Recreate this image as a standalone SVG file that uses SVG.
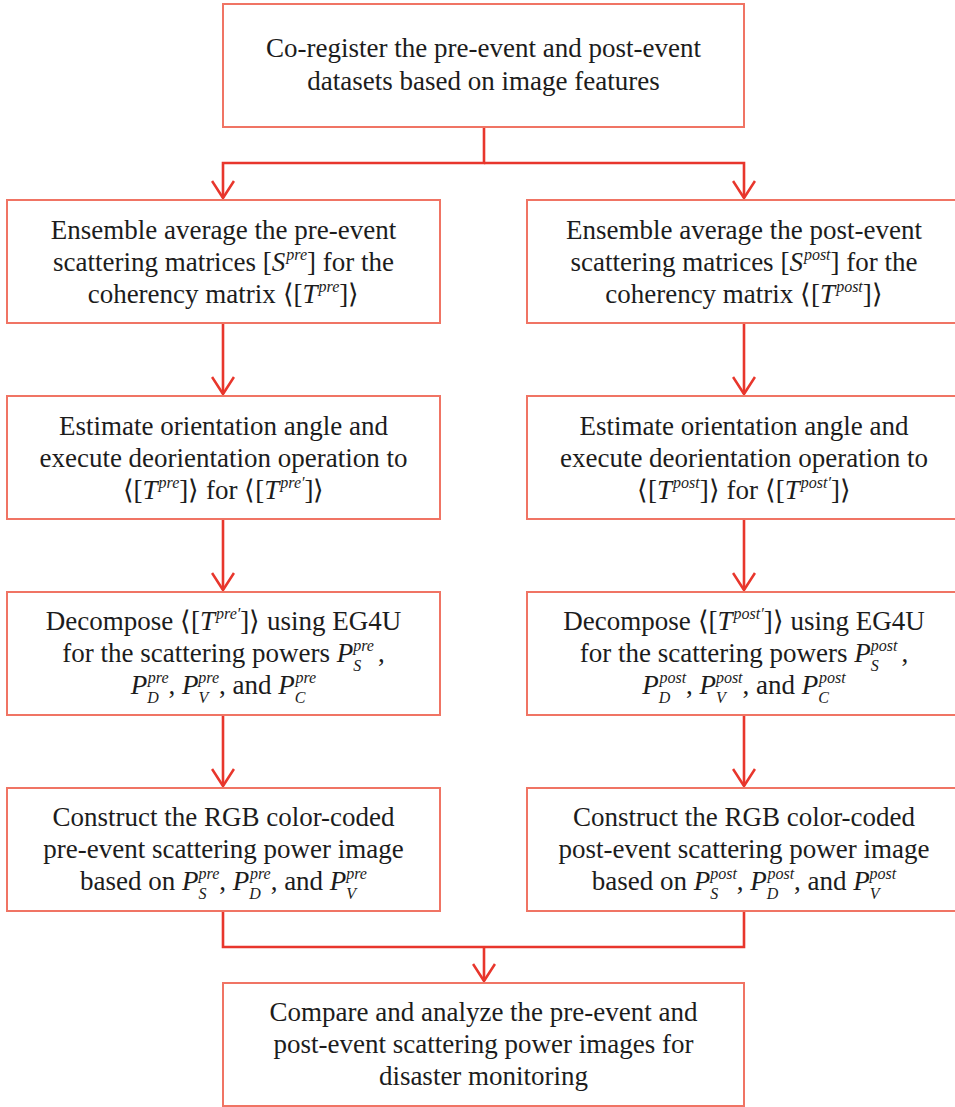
<svg xmlns="http://www.w3.org/2000/svg" width="955" height="1107" viewBox="0 0 955 1107">
<defs>
<style>
.box{fill:#fff;stroke:#f07464;stroke-width:2}
.con{fill:none;stroke:#e8362c;stroke-width:2.6}
.t{font-family:"Liberation Serif","Times New Roman",serif;font-size:27px;fill:#1c1c1c;text-anchor:middle}
.i{font-style:italic}
.s{font-size:16px;font-style:italic}
</style>
<marker id="arr" viewBox="-19 -12 21 24" refX="0" refY="0" markerWidth="21" markerHeight="24" markerUnits="userSpaceOnUse" orient="auto">
<path d="M-17,-11 L0,0 L-17,11" fill="none" stroke="#e8362c" stroke-width="2.6"/>
</marker>
</defs>
<rect width="955" height="1107" fill="#fff"/>

<g id="connectors">
<path class="con" d="M484 127 V163 H223 V198" marker-end="url(#arr)"/>
<path class="con" d="M484 163 H744 V198" marker-end="url(#arr)"/>
<path class="con" d="M223 323 V394" marker-end="url(#arr)"/>
<path class="con" d="M223 519 V590" marker-end="url(#arr)"/>
<path class="con" d="M223 715 V786" marker-end="url(#arr)"/>
<path class="con" d="M744 323 V394" marker-end="url(#arr)"/>
<path class="con" d="M744 519 V590" marker-end="url(#arr)"/>
<path class="con" d="M744 715 V786" marker-end="url(#arr)"/>
<path class="con" d="M223 911 V947 H744 V911"/>
<path class="con" d="M484 947 V981" marker-end="url(#arr)"/>
</g>

<g id="n-coregister">
<rect class="box" x="223" y="4" width="521" height="123"/>
<text class="t" x="483.5" y="57">Co-register the pre-event and post-event</text>
<text class="t" x="483.5" y="90">datasets based on image features</text>
</g>

<g id="n-ensemble-pre">
<rect class="box" x="7" y="200" width="433" height="123"/>
<text class="t" x="223.5" y="239">Ensemble average the pre-event</text>
<text class="t" x="223.5" y="271">scattering matrices [<tspan class="i">S</tspan><tspan class="s" dy="-11" dx="1">pre</tspan><tspan dy="11">] for the</tspan></text>
<text class="t" x="223.5" y="303">coherency matrix ⟨[<tspan class="i">T</tspan><tspan class="s" dy="-11" dx="1">pre</tspan><tspan dy="11">]⟩</tspan></text>
</g>

<g id="n-ensemble-post">
<rect class="box" x="527" y="200" width="434" height="123"/>
<text class="t" x="744" y="239">Ensemble average the post-event</text>
<text class="t" x="744" y="271">scattering matrices [<tspan class="i">S</tspan><tspan class="s" dy="-11" dx="1">post</tspan><tspan dy="11">] for the</tspan></text>
<text class="t" x="744" y="303">coherency matrix ⟨[<tspan class="i">T</tspan><tspan class="s" dy="-11" dx="1">post</tspan><tspan dy="11">]⟩</tspan></text>
</g>

<g id="n-orient-pre">
<rect class="box" x="7" y="396" width="433" height="123"/>
<text class="t" x="223.5" y="435">Estimate orientation angle and</text>
<text class="t" x="223.5" y="467">execute deorientation operation to</text>
<text class="t" x="223.5" y="499">⟨[<tspan class="i">T</tspan><tspan class="s" dy="-11" dx="1">pre</tspan><tspan dy="11">]⟩ for ⟨[</tspan><tspan class="i">T</tspan><tspan class="s" dy="-11" dx="1">pre′</tspan><tspan dy="11">]⟩</tspan></text>
</g>

<g id="n-orient-post">
<rect class="box" x="527" y="396" width="434" height="123"/>
<text class="t" x="744" y="435">Estimate orientation angle and</text>
<text class="t" x="744" y="467">execute deorientation operation to</text>
<text class="t" x="744" y="499">⟨[<tspan class="i">T</tspan><tspan class="s" dy="-11" dx="1">post</tspan><tspan dy="11">]⟩ for ⟨[</tspan><tspan class="i">T</tspan><tspan class="s" dy="-11" dx="1">post′</tspan><tspan dy="11">]⟩</tspan></text>
</g>

<g id="n-decomp-pre">
<rect class="box" x="7" y="592" width="433" height="123"/>
<text class="t" x="223.5" y="630">Decompose ⟨[<tspan class="i">T</tspan><tspan class="s" dy="-11" dx="1">pre′</tspan><tspan dy="11">]⟩ using EG4U</tspan></text>
<text class="t" x="223.5" y="662">for the scattering powers <tspan class="i">P</tspan><tspan class="s" dy="9">S</tspan><tspan class="s" dx="-8" dy="-20">pre</tspan><tspan dy="11" dx="4">,</tspan></text>
<text class="t" x="223.5" y="694"><tspan class="i">P</tspan><tspan class="s" dy="9">D</tspan><tspan class="s" dx="-11" dy="-20">pre</tspan><tspan dy="11">, </tspan><tspan class="i">P</tspan><tspan class="s" dy="9">V</tspan><tspan class="s" dx="-10" dy="-20">pre</tspan><tspan dy="11">, and </tspan><tspan class="i">P</tspan><tspan class="s" dy="9">C</tspan><tspan class="s" dx="-10" dy="-20">pre</tspan></text>
</g>

<g id="n-decomp-post">
<rect class="box" x="527" y="592" width="434" height="123"/>
<text class="t" x="744" y="630">Decompose ⟨[<tspan class="i">T</tspan><tspan class="s" dy="-11" dx="1">post′</tspan><tspan dy="11">]⟩ using EG4U</tspan></text>
<text class="t" x="744" y="662">for the scattering powers <tspan class="i">P</tspan><tspan class="s" dy="9">S</tspan><tspan class="s" dx="-8" dy="-20">post</tspan><tspan dy="11" dx="4">,</tspan></text>
<text class="t" x="744" y="694"><tspan class="i">P</tspan><tspan class="s" dy="9">D</tspan><tspan class="s" dx="-11" dy="-20">post</tspan><tspan dy="11">, </tspan><tspan class="i">P</tspan><tspan class="s" dy="9">V</tspan><tspan class="s" dx="-10" dy="-20">post</tspan><tspan dy="11">, and </tspan><tspan class="i">P</tspan><tspan class="s" dy="9">C</tspan><tspan class="s" dx="-10" dy="-20">post</tspan></text>
</g>

<g id="n-rgb-pre">
<rect class="box" x="7" y="788" width="433" height="123"/>
<text class="t" x="223.5" y="826">Construct the RGB color-coded</text>
<text class="t" x="223.5" y="858">pre-event scattering power image</text>
<text class="t" x="223.5" y="890">based on <tspan class="i">P</tspan><tspan class="s" dy="9">S</tspan><tspan class="s" dx="-8" dy="-20">pre</tspan><tspan dy="11">, </tspan><tspan class="i">P</tspan><tspan class="s" dy="9">D</tspan><tspan class="s" dx="-11" dy="-20">pre</tspan><tspan dy="11">, and </tspan><tspan class="i">P</tspan><tspan class="s" dy="9">V</tspan><tspan class="s" dx="-10" dy="-20">pre</tspan></text>
</g>

<g id="n-rgb-post">
<rect class="box" x="527" y="788" width="434" height="123"/>
<text class="t" x="744" y="826">Construct the RGB color-coded</text>
<text class="t" x="744" y="858">post-event scattering power image</text>
<text class="t" x="744" y="890">based on <tspan class="i">P</tspan><tspan class="s" dy="9">S</tspan><tspan class="s" dx="-8" dy="-20">post</tspan><tspan dy="11">, </tspan><tspan class="i">P</tspan><tspan class="s" dy="9">D</tspan><tspan class="s" dx="-11" dy="-20">post</tspan><tspan dy="11">, and </tspan><tspan class="i">P</tspan><tspan class="s" dy="9">V</tspan><tspan class="s" dx="-10" dy="-20">post</tspan></text>
</g>

<g id="n-compare">
<rect class="box" x="223" y="983" width="521" height="123"/>
<text class="t" x="483.5" y="1021">Compare and analyze the pre-event and</text>
<text class="t" x="483.5" y="1053">post-event scattering power images for</text>
<text class="t" x="483.5" y="1085">disaster monitoring</text>
</g>
</svg>
